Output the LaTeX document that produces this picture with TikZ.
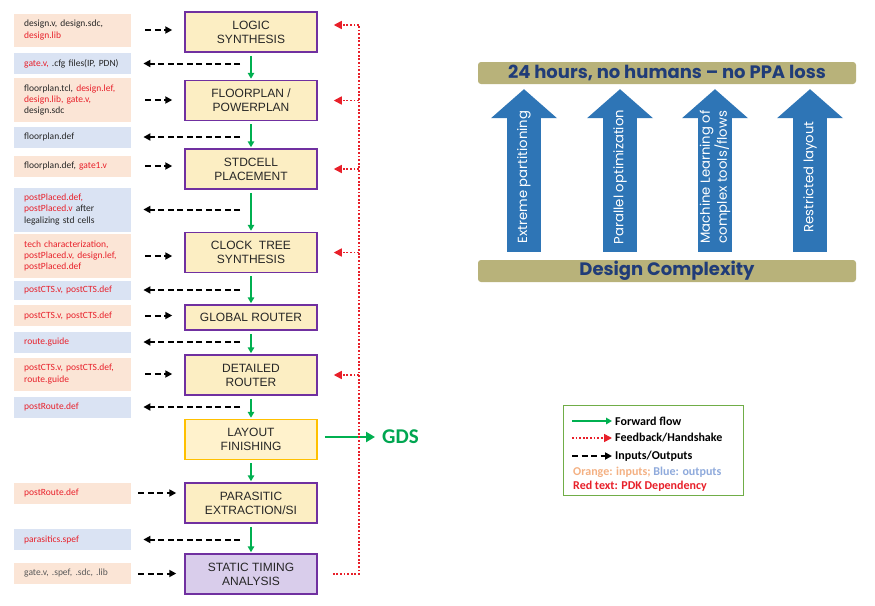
\documentclass[tikz,border=0pt]{standalone}
\usepackage{fontspec}
\setmainfont{Liberation Sans}
\newfontfamily\carlito{Carlito}
\newfontfamily\panelfont{Poppins}
\usepackage{tikz}
\usetikzlibrary{positioning,arrows.meta}
\usepackage{xcolor}

\definecolor{infill}{HTML}{FBE5D6}
\definecolor{outfill}{HTML}{DAE3F3}
\definecolor{stagefill}{HTML}{FCEEC3}
\definecolor{stageline}{HTML}{7030A0}
\definecolor{finfill}{HTML}{FFF2CC}
\definecolor{finline}{HTML}{FFC000}
\definecolor{stafill}{HTML}{D9CDEB}
\definecolor{textgray}{HTML}{262626}
\definecolor{libgray}{HTML}{595959}
\definecolor{pdkred}{HTML}{E8202A}
\definecolor{fwdgreen}{HTML}{00B050}
\definecolor{gdsgreen}{HTML}{00A651}
\definecolor{barfill}{HTML}{B8B27A}
\definecolor{bartext}{HTML}{203C78}
\definecolor{leverblue}{HTML}{2E75B6}
\definecolor{legline}{HTML}{70AD47}
\definecolor{orangetxt}{HTML}{F4B183}
\definecolor{bluetxt}{HTML}{8FAADC}

\newcommand{\pdktxt}[1]{\textcolor{pdkred}{#1}}

\begin{document}
\begin{tikzpicture}[x=1pt,y=-1pt,node distance=68.5pt,on grid,
  stage/.style={draw=stageline,line width=1.5pt,fill=stagefill,minimum width=132pt,
    minimum height=40pt,align=center,text=textgray,font=\fontsize{12}{14}\selectfont},
  inbox/.style={fill=infill,text=textgray,text width=97pt,inner xsep=10pt,inner ysep=0pt,
    minimum height=21pt,align=left,anchor=west,font=\carlito\fontsize{9.5}{11.2}\selectfont},
  outbox/.style={inbox,fill=outfill},
  lines2/.style={minimum height=33pt},
  lines3/.style={minimum height=44pt},
  io/.style={-{Triangle[length=7pt,width=7pt]},dash pattern=on 6pt off 3.5pt,line width=2pt},
  fwd/.style={-{Triangle[length=6pt,width=6.5pt]},draw=fwdgreen,line width=1.5pt,
    shorten <=3pt,shorten >=1pt},
  fb/.style={draw=pdkred,line width=1.6pt,dash pattern=on 1.8pt off 1.8pt},
  bar/.style={fill=barfill,rounded corners=3pt,minimum width=378pt,minimum height=22pt,
    inner sep=0pt,text=bartext,font=\panelfont\bfseries\fontsize{18}{20}\selectfont},
  lever/.style={draw=leverblue,line width=34pt,
    -{Triangle[length=29pt,width=66pt,line width=0pt]},shorten <=8pt,shorten >=5pt},
  levertext/.style={rotate=90,text=white,align=center,
    font=\panelfont\fontsize{13.2}{17}\selectfont},
  legtext/.style={anchor=west,inner sep=2pt,font=\carlito\bfseries\fontsize{12}{14}\selectfont}]

  \fill[white] (0,0) rectangle (875,605);
  \useasboundingbox (0,0) rectangle (875,605);

  % flow steps
  \node[stage] (logic) at (251,32) {LOGIC\\SYNTHESIS};
  \node[stage] (floorplan) [below=of logic] {FLOORPLAN /\\POWERPLAN};
  \node[stage] (placement) [below=of floorplan] {STDCELL\\PLACEMENT};
  \node[stage] (cts) [below=83.5pt of placement] {CLOCK\ \ TREE\\SYNTHESIS};
  \node[stage,minimum height=25pt] (groute) [below=65pt of cts] {GLOBAL ROUTER};
  \node[stage] (droute) [below=57.5pt of groute] {DETAILED\\ROUTER};
  \node[stage,draw=finline,fill=finfill] (finish) [below=64.5pt of droute] {LAYOUT\\FINISHING};
  \node[stage] (pex) [below=63.5pt of finish] {PARASITIC\\EXTRACTION/SI};
  \node[stage,fill=stafill] (sta) [below=71pt of pex] {STATIC TIMING\\ANALYSIS};

  % inputs and outputs
  \node[inbox,lines2] (in1) at (14,30) {design.v, design.sdc,\\\pdktxt{design.lib}};
  \node[outbox] (out1) at (14,63.5) {\pdktxt{gate.v,} .cfg files(IP, PDN)};
  \node[inbox,lines3] (in2) at (14,100) {floorplan.tcl, \pdktxt{design.lef,}\\\pdktxt{design.lib, gate.v,}\\design.sdc};
  \node[outbox] (out2) at (14,137) {floorplan.def};
  \node[inbox] (in3) at (14,166) {floorplan.def, \pdktxt{gate1.v}};
  \node[outbox,lines3] (out3) at (14,209.5) {\pdktxt{postPlaced.def,}\\\pdktxt{postPlaced.v} after\\legalizing std cells};
  \node[inbox,lines3] (in4) at (14,256) {\pdktxt{tech characterization,}\\\pdktxt{postPlaced.v, design.lef,}\\\pdktxt{postPlaced.def}};
  \node[outbox,minimum height=19pt] (out4) at (14,290) {\pdktxt{postCTS.v, postCTS.def}};
  \node[inbox] (in5) at (14,315.5) {\pdktxt{postCTS.v, postCTS.def}};
  \node[outbox] (out5) at (14,342) {\pdktxt{route.guide}};
  \node[inbox,lines2] (in6) at (14,374) {\pdktxt{postCTS.v, postCTS.def,}\\\pdktxt{route.guide}};
  \node[outbox] (out6) at (14,407) {\pdktxt{postRoute.def}};
  \node[inbox] (in7) at (14,493) {\pdktxt{postRoute.def}};
  \node[outbox] (out7) at (14,539.5) {\pdktxt{parasitics.spef}};
  \node[inbox,text=libgray] (in8) at (14,573.5) {gate.v, .spef, .sdc, .lib};

  \foreach \i/\s in {in1/logic,in2/floorplan,in3/placement,in4/cts,in5/groute,in6/droute}
    \draw[io,shorten <=14pt,shorten >=12pt] (\i) -- (\i -| \s.west);
  \foreach \i/\s in {in7/pex,in8/sta}
    \draw[io,shorten <=7pt,shorten >=8pt] (\i) -- (\i -| \s.west);
  \foreach \o in {out1,out2,out3,out4,out5,out6,out7}
    \draw[io,shorten <=11pt,shorten >=12pt] (\o -| logic.south) -- (\o);

  % forward flow
  \foreach \a/\b in {logic/floorplan,floorplan/placement,placement/cts,cts/groute,
                     groute/droute,droute/finish,finish/pex,pex/sta}
    \draw[fwd] (\a) -- (\b);
  \node[anchor=west,inner sep=0pt,text=gdsgreen,font=\carlito\bfseries\fontsize{21}{24}\selectfont]
    (gds) at (382,437) {GDS};
  \draw[fwd,line width=2.5pt,-{Triangle[length=9pt,width=10pt]},shorten <=7pt,shorten >=7pt]
    (gds -| finish.east) -- (gds);

  % feedback
  \coordinate (fbx) at (359,0);
  \coordinate (ltop) at ([yshift=7pt]logic.east);
  \draw[fb,shorten <=15pt] (sta) -- (sta -| fbx) -- (ltop -| fbx);
  \foreach \s in {ltop,floorplan.east,placement.east,cts.east,droute.east}
    \draw[fb,-{Triangle[length=8pt,width=8pt]},shorten >=16pt] (\s -| fbx) -- (\s);

  % legend
  \node[draw=legline,line width=1pt,minimum width=180pt,minimum height=90pt] (legend) at (653,450) {};
  \node[legtext] (lfwd) at (613,421) {Forward flow};
  \node[legtext] (lfb) at (613,438) {Feedback/Handshake};
  \node[legtext] (lio) at (613,456) {Inputs/Outputs};
  \node[legtext] (lcol) at (571,472) {\textcolor{orangetxt}{Orange: inputs;} \textcolor{bluetxt}{Blue: outputs}};
  \node[legtext,text=pdkred] (lpdk) at (571,486) {Red text: PDK Dependency};
  \coordinate (k1) at (572,421);
  \coordinate (k2) at (572,438);
  \coordinate (k3) at (572,456);
  \draw[fwd,shorten <=0pt] (k1) -- (lfwd);
  \draw[fb,-{Triangle[length=8pt,width=8pt]},shorten >=1pt] (k2) -- (lfb);
  \draw[io,shorten >=1pt] (k3) -- (lio);

  % right panel
  \node[bar] (goal) at (667,73) {24 hours, no humans – no PPA loss};
  \node[bar] (cplx) at (667,271) {Design Complexity};
  \foreach \cx/\txt [count=\i] in {524/{Extreme partitioning},620/{Parallel optimization},
      715/{Machine Learning of\\complex tools/flows},810/{Restricted layout}} {
    \coordinate (lx\i) at (\cx,0);
    \draw[lever] (cplx.north -| lx\i) -- (goal.south -| lx\i);
    \node[levertext] (lv\i) at (\cx,177) {\txt};
  }
\end{tikzpicture}
\end{document}
